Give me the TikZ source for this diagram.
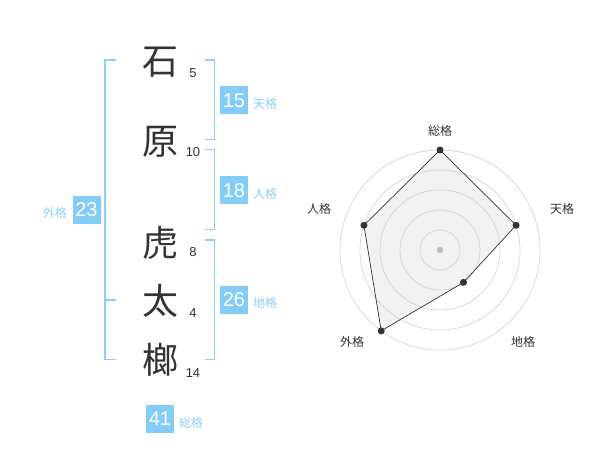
\documentclass[tikz,border=0pt]{standalone}
\usepackage{fontspec}
\setmainfont{Liberation Sans}
\newfontfamily\jpfont{Noto Sans CJK JP}
\definecolor{brk}{HTML}{8CCFF7}
\definecolor{boxc}{HTML}{84CCF8}
\definecolor{txt}{HTML}{333333}
\definecolor{ring}{HTML}{D4D4D4}
\definecolor{area}{HTML}{F2F2F2}
\tikzset{
  kanji/.style={font=\jpfont\fontsize{36}{36}\selectfont, text=txt, inner sep=0pt},
  stroke/.style={font=\fontsize{13}{13}\selectfont, text=txt, inner sep=0pt},
  numbox/.style={fill=boxc, text=white, minimum width=28pt, minimum height=28pt, inner sep=0pt, font=\fontsize{20}{20}\selectfont},
  kaku/.style={font=\jpfont\fontsize{12}{12}\selectfont, text=brk, inner sep=0pt},
  bracket/.style={draw=brk, line width=1.4pt},
  rlabel/.style={font=\jpfont\fontsize{12}{12}\selectfont, text=txt, inner sep=0pt},
  dot/.style={circle, fill=txt, inner sep=0pt, minimum size=7pt},
}
\begin{document}
\begin{tikzpicture}[x=1pt,y=-1pt]
\useasboundingbox (0,0) rectangle (600,470);
% characters
\node[kanji] (c1) at (160,62) {石};
\node[kanji] (c2) at (160,142) {原};
\node[kanji] (c3) at (160,243) {虎};
\node[kanji] (c4) at (160,301) {太};
\node[kanji] (c5) at (160,360) {榔};
\node[stroke] (n1) at (193,73) {5};
\node[stroke] (n2) at (193,152) {10};
\node[stroke] (n3) at (193,252) {8};
\node[stroke] (n4) at (193,313) {4};
\node[stroke] (n5) at (193,373) {14};
% brackets
\draw[bracket] (116,60) -- (105,60) -- (105,359.5) -- (116,359.5);
\draw[bracket] (105,300) -- (116,300);
\draw[bracket] (205,60) -- (214.5,60) -- (214.5,139.5) -- (205,139.5);
\draw[bracket] (205,149.5) -- (214.5,149.5) -- (214.5,229.5) -- (205,229.5);
\draw[bracket] (205,240) -- (214.5,240) -- (214.5,359.5) -- (205,359.5);
% boxes
\node[numbox] (b1) at (234,100.5) {15};
\node[kaku, anchor=west] (k1) at (253,103.5) {天格};
\node[numbox] (b2) at (234,190.5) {18};
\node[kaku, anchor=west] (k2) at (253,193.5) {人格};
\node[numbox] (b3) at (86.5,210) {23};
\node[kaku, anchor=east] (k3) at (67,213) {外格};
\node[numbox] (b4) at (234,300) {26};
\node[kaku, anchor=west] (k4) at (253,303) {地格};
\node[numbox] (b5) at (160,419) {41};
\node[kaku, anchor=west] (k5) at (179,422.5) {総格};
% radar
\begin{scope}[shift={(440,250)}]
  \coordinate (p1) at (-90:100);
  \coordinate (p2) at (-18:80);
  \coordinate (p3) at (54:40);
  \coordinate (p4) at (126:100);
  \coordinate (p5) at (-162:80);
  \fill[area] (p1) -- (p2) -- (p3) -- (p4) -- (p5) -- cycle;
  \foreach \r in {20,40,60,80,100} \draw[ring, line width=0.7pt] (0,0) circle[radius=\r];
  \fill[ring!90!black] (0,0) circle[radius=3.2];
  \draw[txt, line width=0.7pt] (p1) -- (p2) -- (p3) -- (p4) -- (p5) -- cycle;
  \foreach \p in {p1,p2,p3,p4,p5} \node[dot] at (\p) {};
\end{scope}
\node[rlabel] (l1) at (440,130.5) {総格};
\node[rlabel] (l2) at (562,208.5) {天格};
\node[rlabel] (l3) at (523,341.5) {地格};
\node[rlabel] (l4) at (352,341.5) {外格};
\node[rlabel] (l5) at (319,208.5) {人格};
\end{tikzpicture}
\end{document}
